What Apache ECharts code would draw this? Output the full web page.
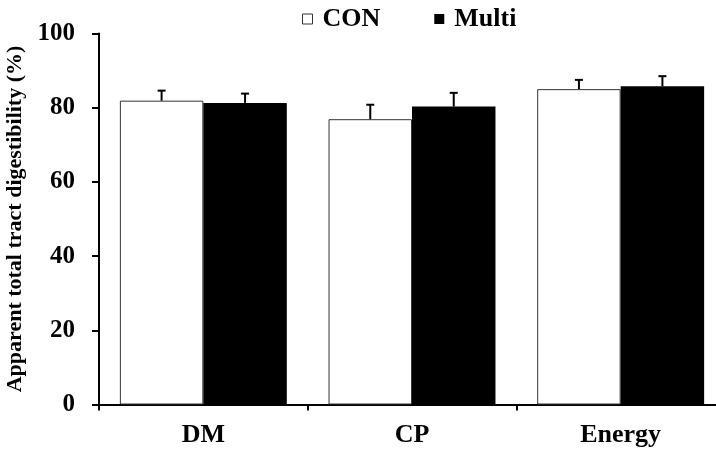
<!DOCTYPE html>
<html>
<head>
<meta charset="utf-8">
<script src="https://cdn.jsdelivr.net/npm/echarts@6/dist/echarts.min.js"></script>
<style>
  html, body { margin: 0; padding: 0; background: #fff; }
  #chart { width: 716px; height: 450px; }
</style>
</head>
<body>
<div id="chart"></div>
<script>
const categories = ['DM', 'CP', 'Energy'];
const conValues = [81.9, 76.9, 85.0];
const conSd = [2.7, 3.9, 2.5];
const multiValues = [81.3, 80.3, 85.8];
const multiSd = [2.5, 3.7, 2.7];
const yTicks = [0, 20, 40, 60, 80, 100];

const font = 'Liberation Serif';

// error bar, drawn upward only, with a small cap
function errorBar(offset, values, sd) {
  return {
    type: 'custom',
    z: 5,
    silent: true,
    data: values.map((v, i) => [i, v, v + sd[i]]),
    renderItem(params, api) {
      const base = api.coord([api.value(0), api.value(1)]);
      const top = api.coord([api.value(0), api.value(2)]);
      const bandW = api.size([1, 0])[0];
      const x = base[0] + offset * bandW;
      const style = { stroke: '#000', lineWidth: 2 };
      return {
        type: 'group',
        children: [
          { type: 'line', shape: { x1: x, y1: base[1], x2: x, y2: top[1] }, style },
          { type: 'line', shape: { x1: x - 4, y1: top[1], x2: x + 4, y2: top[1] }, style }
        ]
      };
    }
  };
}

const chart = echarts.init(document.getElementById('chart'));
chart.setOption({
  animation: false,
  backgroundColor: '#fff',
  legend: {
    top: 6,
    left: 302,
    padding: 0,
    itemWidth: 10,
    itemHeight: 10,
    itemGap: 54,
    data: [
      { name: 'CON', icon: 'rect', itemStyle: { color: '#fff', borderColor: '#333', borderWidth: 1 } },
      { name: 'Multi', icon: 'rect', itemStyle: { color: '#000' } }
    ],
    textStyle: { fontFamily: font, fontWeight: 'bold', fontSize: 26, color: '#000', padding: [0, 0, 0, 5] }
  },
  grid: { left: 99, top: 33.5, width: 626, bottom: 45.5, outerBoundsMode: 'none' },
  xAxis: {
    type: 'category',
    data: categories,
    axisLine: { lineStyle: { color: '#000', width: 2 } },
    axisTick: { show: true, length: 6, lineStyle: { color: '#000', width: 2 } },
    axisLabel: { fontFamily: font, fontWeight: 'bold', fontSize: 26, color: '#000', margin: 18 }
  },
  yAxis: {
    type: 'value',
    min: yTicks[0],
    max: yTicks[yTicks.length - 1],
    interval: 20,
    name: 'Apparent total tract digestibility (%)',
    nameLocation: 'middle',
    nameGap: 62,
    nameTextStyle: { fontFamily: font, fontWeight: 'bold', fontSize: 22, color: '#000' },
    splitLine: { show: false },
    axisLine: { show: true, lineStyle: { color: '#000', width: 2 } },
    axisTick: { show: true, length: 7, lineStyle: { color: '#000', width: 2 } },
    axisLabel: { fontFamily: font, fontWeight: 'bold', fontSize: 25, color: '#000', margin: 24 }
  },
  series: [
    {
      name: 'CON',
      type: 'bar',
      data: conValues,
      barWidth: '40%',
      barGap: '0%',
      itemStyle: { color: '#fff', borderColor: '#333', borderWidth: 1 }
    },
    {
      name: 'Multi',
      type: 'bar',
      data: multiValues,
      barWidth: '40%',
      barGap: '0%',
      itemStyle: { color: '#000' }
    },
    errorBar(-0.2, conValues, conSd),
    errorBar(0.2, multiValues, multiSd)
  ]
});
</script>
</body>
</html>
